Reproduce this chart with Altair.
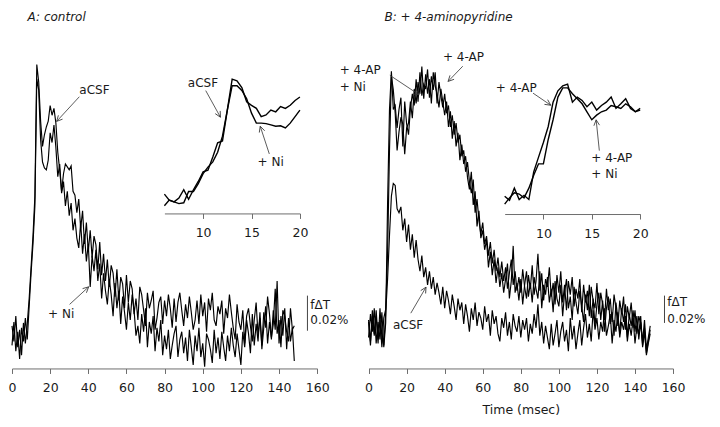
import math
import altair as alt
import pandas as pd

# ---------------- data (signal in a.u., baseline ~ 0) ----------------
main_ticks = [0, 20, 40, 60, 80, 100, 120, 140, 160]
inset_ticks = [10, 15, 20]
inset_t0 = 6.0          # inset traces start at 6 msec, sampled every 0.5 msec
inset_dt = 0.5

A_acsf = [
    12, -4, 22, -10, 8, -18, 15, -6, 14, 40,
    72, 104, 145, 280, 262, 222, 196, 208, 216, 222,
    238, 228, 235, 220, 190, 172, 150, 168, 178, 175,
    172, 176, 150, 146, 128, 142, 112, 130, 96, 118,
    88, 110, 82, 104, 95, 70, 98, 64, 86, 58,
    80, 52, 74, 66, 42, 70, 38, 62, 55, 30,
    64, 36, 58, 50, 24, 40, 18, 52, 44, 28,
    12, 46, 30, 38, 48, 8, 20, 36, 42, 14,
    38, 22, 44, 30, 10, 40, 16, 36, 46, 28,
    12, 34, 20, 42, 26, 8, 18, 38, 14, 44,
    22, 36, 6, 40, 28, 46, 18, 12, 32, 24,
    38, 4, 30, 20, 44, 26, 10, -2, 34, 16,
    8, 28, -6, 22, 30, 12, -4, 18, 36, 2,
    20, -8, 26, 10, 42, 24, 0, 14, 50, 4,
    18, -10, 28, 22, 6, -4, 30, 8, 12]

A_ni = [
    -8, 16, -14, 6, -22, 10, -4, 20, -2, 32,
    66, 96, 135, 265, 254, 203, 180, 174, 172, 182,
    210, 200, 218, 195, 165, 178, 148, 160, 135, 150,
    125, 138, 110, 122, 102, 92, 118, 86, 106, 78,
    96, 52, 84, 68, 90, 58, 76, 40, 66, 48,
    34, 60, 44, 22, 56, 30, 48, 14, 42, 26,
    8, 36, 18, 44, 28, 2, 12, -6, 24, 6,
    30, -10, 16, 4, 22, -14, 10, -4, 18, -18,
    2, -12, 8, -22, -8, 4, 12, -20, -2, 6,
    -16, 0, -24, 8, -10, -28, 2, -14, 10, -20,
    -6, -30, 4, -2, -12, -26, 8, -16, 0, -22,
    6, -10, -24, 2, -14, 10, -8, -20, 4, -12,
    -28, 6, -10, 18, 4, -16, 24, -8, 14, -4,
    26, -12, 10, 32, -6, 16, -2, 28, 8, 58,
    -6, 22, 2, 30, -12, 20, -4, 10, -24]

B_acsf = [
    8, -14, 18, -6, 12, -16, 20, -10, -18, 15,
    50, 95, 135, 148, 146, 122, 118, 124, 100, 112,
    88, 106, 80, 96, 72, 90, 70, 58, 74, 52,
    62, 44, 58, 40, 52, 34, 46, 36, 24, 42,
    20, 38, 28, 14, 34, 22, 8, 30, 18, 26,
    4, 24, 12, -4, 20, 8, 26, 2, 16, 10,
    -2, 22, 6, 14, -8, 18, 4, 12, -6, -14,
    10, 0, 16, -8, 6, -12, 14, 2, -4, 12,
    -10, 8, -2, 10, -14, 4, -6, 14, 0, 24,
    -8, 6, -16, 2, -10, -22, 4, -18, -6, 8,
    -20, -4, 6, -14, -2, -24, 10, -12, 2, -22,
    -6, 8, -18, 0, 14, -10, 4, -14, 18, -2,
    10, -12, 6, -4, 20, -8, 2, 14, -16, 8,
    -4, 16, -10, 6, -2, 12, -14, 4, -8, 10,
    -16, 2, -6, 12, -20, -4, -26, -14, -2]

B_4ap = [
    -10, 14, -4, 20, -16, 6, -12, 16, -20, 5,
    128, 224, 263, 224, 228, 205, 224, 236, 186, 232,
    209, 198, 225, 240, 228, 255, 232, 262, 238, 250,
    245, 265, 236, 258, 244, 262, 230, 252, 238, 226,
    240, 220, 228, 206, 218, 198, 210, 190, 198, 176,
    182, 160, 170, 150, 138, 152, 118, 132, 110, 96,
    108, 86, 94, 74, 88, 66, 80, 58, 72, 52,
    68, 48, 62, 40, 56, 70, 44, 58, 38, 52,
    36, 60, 42, 30, 54, 40, 64, 34, 48, 76,
    38, 56, 28, 50, 42, 62, 32, 46, 24, 54,
    36, 58, 26, 44, 18, 48, 34, 52, 22, 40,
    30, 50, 16, 44, 26, 38, 12, 42, 28, 20,
    46, 14, 36, 24, 8, 40, 18, 30, 6, 34,
    20, 2, 28, 14, 32, -2, 22, 10, 26, 0,
    18, -6, 12, 4, -14, 8, -22, -10, 2]

B_4ap_ni = [
    6, -18, 12, -8, 18, -12, 8, -20, 10, 19,
    77, 182, 258, 244, 220, 182, 201, 216, 209, 178,
    205, 210, 232, 215, 245, 230, 252, 240, 268, 235,
    260, 240, 255, 230, 262, 248, 240, 226, 245, 232,
    218, 232, 206, 222, 194, 212, 186, 200, 172, 188,
    168, 176, 154, 142, 160, 126, 140, 104, 120, 92,
    100, 80, 90, 62, 78, 54, 70, 46, 62, 42,
    56, 36, 50, 66, 30, 48, 84, 36, 46, 28,
    50, 24, 44, 58, 32, 46, 26, 52, 40, 30,
    58, 20, 44, 34, 52, 26, 40, 16, 48, 30,
    22, 44, 12, 36, 50, 20, 32, 8, 42, 26,
    14, 38, 22, 6, 34, 18, 44, 10, 30, 2,
    24, 36, 8, 28, -4, 20, 32, 4, 16, -8,
    26, 10, -6, 20, 6, 24, -10, 14, 2, 18,
    -4, 12, -12, 6, -18, 0, -28, -16, -6]

IA_acsf = [16, 2, -2, 7, 26, 4, 26, 45, 67, 71, 101, 134, 138, 209, 280,
           276, 261, 228, 220, 213, 194, 198, 209, 205, 217, 213, 220, 231, 239]
IA_ni = [-11, 2, -2, -6, -4, 22, 22, 40, 63, 78, 90, 112, 149, 209, 265,
         265, 254, 235, 202, 179, 179, 178, 175, 172, 173, 168, 179, 194, 209]

IB_4ap = [0, -10, 19, -8, 2, -8, 58, 93, 128, 166, 224, 251, 263, 267, 224,
          236, 228, 213, 224, 205, 216, 224, 236, 209, 220, 232, 209, 201, 209]
IB_4ap_ni = [-19, -4, 8, 5, -4, 19, 50, 77, 77, 135, 182, 236, 258, 258, 244,
             232, 220, 201, 182, 193, 201, 205, 216, 213, 209, 220, 213, 201, 205]

# ---------------- layout ----------------
W, H = 704, 411
FONT = "DejaVu Sans"
INK = "#1a1a1a"
GREY = "#6e6e6e"


def px(xr):
    return 4 + (xr - 6) * 0.975


def py(yr):
    return (yr - 2) * 0.975


PA = dict(xd=[0, 160], xr=[px(6), px(319)], yd=[-40, 300], yr=[py(380), py(40)], axis_y=py(371.7))
PB = dict(xd=[0, 160], xr=[px(371.7), px(684)], yd=[-40, 300], yr=[py(370), py(30)], axis_y=py(371.7))
IA = dict(xd=[6, 20], xr=[px(162.3), px(301.3)], yd=[-20, 300], yr=[py(208.9), py(66.1)], axis_y=py(212.7))
IB = dict(xd=[6, 20], xr=[px(511.3), px(650.3)], yd=[-20, 300], yr=[py(203.6), py(65.8)], axis_y=py(213.3))


def xs(p):
    return alt.Scale(domain=p["xd"], range=p["xr"], nice=False, zero=False)


def ys(p):
    return alt.Scale(domain=p["yd"], range=p["yr"], nice=False, zero=False)


def to_screen(p, t, v):
    sx = p["xr"][0] + (t - p["xd"][0]) / (p["xd"][1] - p["xd"][0]) * (p["xr"][1] - p["xr"][0])
    sy = p["yr"][0] + (v - p["yd"][0]) / (p["yd"][1] - p["yd"][0]) * (p["yr"][1] - p["yr"][0])
    return sx, sy


def mk_axis(p, values, title=None):
    kw = dict(orient="bottom", offset=p["axis_y"] - H, values=values, grid=False,
              domainColor=GREY, domainWidth=1, tickColor=GREY, tickWidth=1, tickSize=5,
              labelFont=FONT, labelFontSize=12.5, labelColor=INK, labelPadding=8,
              labelFlush=False, labelOverlap=False)
    if title:
        kw.update(title=title, titleFont=FONT, titleFontSize=12.5, titleFontWeight="normal",
                  titleColor=INK, titlePadding=10)
    else:
        kw["title"] = None
    return alt.Axis(**kw)


HEAD = "M-1.6,-0.8L0,0L-1.6,0.8"


def panel(p, series, times_of, lw, ticks, labels, arrows, axis_title=None, bar=None):
    rows = []
    for name, vals in series.items():
        for t, v in zip(times_of(vals), vals):
            rows.append({"t": t, "v": v, "s": name})
    df = pd.DataFrame(rows)
    layers = [
        alt.Chart(df).mark_line(color="black", strokeWidth=lw).encode(
            x=alt.X("t:Q", scale=xs(p), axis=mk_axis(p, ticks, axis_title)),
            y=alt.Y("v:Q", scale=ys(p), axis=None),
            detail="s:N",
        )
    ]
    ldf = pd.DataFrame(labels, columns=["txt", "t", "v"])
    layers.append(
        alt.Chart(ldf).mark_text(align="left", baseline="alphabetic", font=FONT,
                                 fontSize=12, color=INK).encode(
            x=alt.X("t:Q", scale=xs(p), axis=None),
            y=alt.Y("v:Q", scale=ys(p), axis=None),
            text="txt:N",
        )
    )
    adf = pd.DataFrame(arrows, columns=["t", "v", "t2", "v2"])
    angs = []
    for a in arrows:
        x1, y1 = to_screen(p, a[0], a[1])
        x2, y2 = to_screen(p, a[2], a[3])
        angs.append(math.degrees(math.atan2(y2 - y1, x2 - x1)) % 360)
    adf["ang"] = angs
    layers.append(
        alt.Chart(adf).mark_rule(color="#333333", strokeWidth=0.8).encode(
            x=alt.X("t:Q", scale=xs(p), axis=None),
            y=alt.Y("v:Q", scale=ys(p), axis=None),
            x2="t2:Q", y2="v2:Q",
        )
    )
    layers.append(
        alt.Chart(adf).mark_point(shape=HEAD, filled=False, size=50, color="#333333",
                                  strokeWidth=0.8, opacity=1).encode(
            x=alt.X("t2:Q", scale=xs(p), axis=None),
            y=alt.Y("v2:Q", scale=ys(p), axis=None),
            angle=alt.Angle("ang:Q", scale=None),
        )
    )
    if bar is not None:
        bdf = pd.DataFrame([bar[:3]], columns=["t", "v", "v2"])
        layers.append(
            alt.Chart(bdf).mark_rule(color="#444444", strokeWidth=1).encode(
                x=alt.X("t:Q", scale=xs(p), axis=None),
                y=alt.Y("v:Q", scale=ys(p), axis=None),
                y2="v2:Q",
            )
        )
    return layers


main_times = lambda vals: list(range(len(vals)))
inset_times = lambda vals: [inset_t0 + inset_dt * i for i in range(len(vals))]

layers = []
layers += panel(
    PA, {"aCSF": A_acsf, "+ Ni": A_ni}, main_times, 1.15, main_ticks,
    labels=[("aCSF", 35.3, 250), ("+ Ni", 18.9, 20), ("fΔT", 156.4, 29), ("0.02%", 156.4, 14)],
    arrows=[(35.3, 247, 23.4, 221.7), (30.2, 34, 40.2, 52)],
    bar=(154.9, 7, 43),
)
layers += panel(
    PB, {"aCSF": B_acsf, "+ 4-AP": B_4ap, "+ 4-AP + Ni": B_4ap_ni}, main_times, 1.15, main_ticks,
    labels=[("+ 4-AP", -15.2, 260), ("+ Ni", -15.2, 243), ("+ 4-AP", 39.1, 274),
            ("aCSF", 12.8, -1), ("fΔT", 157, 22), ("0.02%", 157, 5)],
    arrows=[(11.2, 259, 26.6, 239), (49.5, 268.3, 41.8, 252.7), (22.2, 15, 30.2, 41.7)],
    axis_title="Time (msec)",
    bar=(155.5, 5, 33),
)
layers += panel(
    IA, {"aCSF": IA_acsf, "+ Ni": IA_ni}, inset_times, 1.4, inset_ticks,
    labels=[("aCSF", 8.42, 262), ("+ Ni", 15.63, 80.6)],
    arrows=[(10.27, 253.8, 11.79, 192.6), (16.84, 108.2, 15.9, 171.8)],
)
layers += panel(
    IB, {"+ 4-AP": IB_4ap, "+ 4-AP + Ni": IB_4ap_ni}, inset_times, 1.4, inset_ticks,
    labels=[("+ 4-AP", 5.08, 248.4), ("+ 4-AP", 14.95, 81.3), ("+ Ni", 14.95, 44.1)],
    arrows=[(8.93, 245.4, 10.76, 216.6), (15.78, 108.4, 15.45, 181.8)],
)

layers.append(
    alt.Chart(pd.DataFrame({"txt": ["A: control"]})).mark_text(
        align="left", baseline="alphabetic", font=FONT, fontSize=12, fontStyle="italic", color=INK
    ).encode(x=alt.value(px(22)), y=alt.value(12.5), text="txt:N")
)
layers.append(
    alt.Chart(pd.DataFrame({"txt": ["B: + 4-aminopyridine"]})).mark_text(
        align="left", baseline="alphabetic", font=FONT, fontSize=12, fontStyle="italic", color=INK
    ).encode(x=alt.value(px(388)), y=alt.value(12.5), text="txt:N")
)

chart = (
    alt.layer(*layers)
    .resolve_scale(x="independent", y="independent")
    .resolve_axis(x="independent", y="independent")
    .properties(width=W, height=H, autosize=alt.AutoSizeParams(type="none"), padding=0,
                background="white")
    .configure_view(strokeWidth=0)
)

chart.save("out.html", embed_options={"renderer": "svg", "actions": False})
